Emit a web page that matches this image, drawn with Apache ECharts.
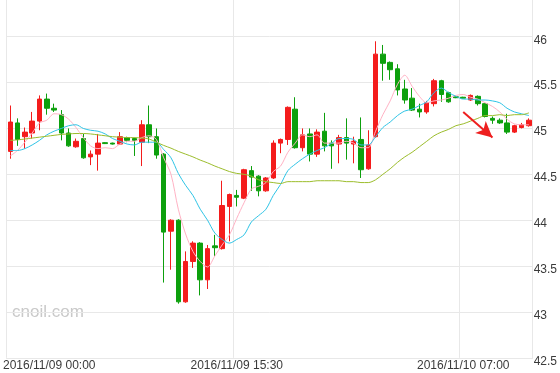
<!DOCTYPE html>
<html><head><meta charset="utf-8">
<script src="https://cdn.jsdelivr.net/npm/echarts@6/dist/echarts.min.js"></script>
<style>html,body{margin:0;padding:0;background:#fff}#c{width:560px;height:373px}</style>
</head><body><div id="c"></div>
<script>
const categories = [
'2016/11/09 00:00','2016/11/09 00:30','2016/11/09 01:00','2016/11/09 01:30','2016/11/09 02:00','2016/11/09 02:30',
'2016/11/09 03:00','2016/11/09 03:30','2016/11/09 04:00','2016/11/09 04:30','2016/11/09 05:00','2016/11/09 05:30',
'2016/11/09 06:00','2016/11/09 06:30','2016/11/09 07:00','2016/11/09 07:30','2016/11/09 08:00','2016/11/09 08:30',
'2016/11/09 09:00','2016/11/09 09:30','2016/11/09 10:00','2016/11/09 10:30','2016/11/09 11:00','2016/11/09 11:30',
'2016/11/09 12:00','2016/11/09 12:30','2016/11/09 13:00','2016/11/09 13:30','2016/11/09 14:00','2016/11/09 14:30',
'2016/11/09 15:00','2016/11/09 15:30','2016/11/09 16:00','2016/11/09 16:30','2016/11/09 17:00','2016/11/09 17:30',
'2016/11/09 18:00','2016/11/09 18:30','2016/11/09 19:00','2016/11/09 19:30','2016/11/09 20:00','2016/11/09 20:30',
'2016/11/09 21:00','2016/11/09 21:30','2016/11/09 22:00','2016/11/09 22:30','2016/11/09 23:00','2016/11/09 23:30',
'2016/11/10 00:00','2016/11/10 00:30','2016/11/10 01:00','2016/11/10 01:30','2016/11/10 02:00','2016/11/10 02:30',
'2016/11/10 03:00','2016/11/10 03:30','2016/11/10 04:00','2016/11/10 04:30','2016/11/10 05:00','2016/11/10 05:30',
'2016/11/10 06:00','2016/11/10 06:30','2016/11/10 07:00','2016/11/10 07:30','2016/11/10 08:00','2016/11/10 08:30',
'2016/11/10 09:00','2016/11/10 09:30','2016/11/10 10:00','2016/11/10 10:30','2016/11/10 11:00','2016/11/10 11:30'
];
const openValues = [44.75,45.06,44.91,44.95,45.08,45.32,45.22,45.15,44.95,44.80,44.89,44.69,44.72,44.845,44.84,44.83,44.90,44.89,44.85,45.04,
44.91,44.72,43.88,44.00,43.11,43.55,43.75,43.35,43.72,43.69,44.15,44.27,44.24,44.54,44.48,44.32,44.46,44.84,44.88,45.21,
44.79,44.94,44.72,44.97,44.84,44.83,44.90,44.83,44.88,44.56,44.91,45.81,45.72,45.65,45.43,45.33,45.21,45.18,45.27,45.52,
45.39,45.345,45.34,45.31,45.35,45.27,45.11,45.09,45.06,44.96,45.01,45.03];
const closeValues = [45.07,44.88,44.96,45.08,45.32,45.22,45.20,44.95,44.81,44.86,44.68,44.72,44.84,44.835,44.83,44.91,44.87,44.87,45.04,44.91,
44.71,43.87,44.00,43.11,43.55,43.75,43.35,43.69,43.70,44.16,44.28,44.25,44.55,44.47,44.32,44.46,44.84,44.88,45.23,44.79,
44.93,44.72,44.96,44.81,44.81,44.90,44.84,44.86,44.55,44.82,45.81,45.71,45.64,45.42,45.31,45.20,45.18,45.28,45.52,45.37,
45.29,45.335,45.33,45.36,45.27,45.13,45.09,45.06,44.96,45.03,45.04,45.09];
const lowValues = [44.67,44.81,44.78,44.89,44.98,45.15,45.18,44.87,44.80,44.79,44.67,44.60,44.54,44.83,44.825,44.82,44.85,44.70,44.59,44.84,
44.67,43.32,43.46,43.09,43.10,43.48,43.18,43.25,43.60,43.68,43.77,44.15,44.23,44.32,44.26,44.31,44.45,44.73,44.82,44.78,
44.75,44.64,44.69,44.75,44.56,44.62,44.66,44.62,44.46,44.55,44.90,45.52,45.53,45.36,45.27,45.19,45.12,45.16,45.24,45.29,
45.28,45.33,45.325,45.30,45.25,45.12,45.05,45.05,44.94,44.95,45.00,45.02];
const highValues = [45.25,45.11,45.01,45.18,45.36,45.38,45.27,45.20,45.00,44.89,44.94,44.76,44.94,44.85,44.845,44.96,44.91,44.90,45.09,45.25,
45.00,44.73,44.01,44.01,43.66,43.77,43.76,43.73,43.84,44.43,44.29,44.33,44.56,44.59,44.49,44.47,44.87,44.89,45.24,45.34,
45.00,45.00,44.99,45.17,44.87,44.93,45.11,44.91,45.12,44.98,45.95,45.91,45.73,45.70,45.53,45.44,45.27,45.30,45.54,45.53,
45.40,45.35,45.345,45.37,45.36,45.27,45.13,45.11,45.16,45.04,45.06,45.11];
const ma5 = [44.70,44.76,44.85,44.95,45.06,45.09,45.16,45.15,45.10,45.01,44.90,44.81,44.78,44.79,44.78,44.83,44.86,44.86,44.90,44.92,
44.88,44.68,44.50,44.12,43.85,43.66,43.55,43.49,43.61,43.73,43.84,44.02,44.19,44.34,44.37,44.41,44.53,44.59,44.74,44.84,
44.93,44.91,44.93,44.84,44.84,44.84,44.86,44.84,44.79,44.79,44.97,45.15,45.30,45.48,45.58,45.46,45.35,45.28,45.30,45.31,
45.33,45.36,45.37,45.34,45.32,45.28,45.24,45.18,45.10,45.05,45.04,45.04];
const ma10 = [44.76,44.76,44.78,44.82,44.87,44.93,44.97,45.00,45.03,45.04,45.00,44.98,44.97,44.94,44.89,44.86,44.83,44.82,44.85,44.85,
44.85,44.77,44.68,44.51,44.38,44.27,44.12,44.00,43.86,43.79,43.75,43.79,43.84,43.98,44.05,44.12,44.27,44.39,44.54,44.61,
44.67,44.72,44.76,44.79,44.84,44.89,44.89,44.88,44.82,44.82,44.91,45.01,45.07,45.14,45.19,45.21,45.25,45.29,45.39,45.44,
45.39,45.35,45.32,45.32,45.31,45.31,45.30,45.28,45.22,45.18,45.16,45.14];
const ma30 = [44.87,44.875,44.885,44.895,44.905,44.915,44.925,44.935,44.94,44.945,44.945,44.94,44.93,44.92,44.91,44.905,44.90,44.90,44.895,44.885,
44.85,44.815,44.785,44.75,44.72,44.69,44.655,44.625,44.59,44.56,44.53,44.51,44.50,44.48,44.44,44.42,44.41,44.40,44.42,44.42,
44.42,44.42,44.43,44.43,44.43,44.43,44.42,44.42,44.41,44.41,44.44,44.50,44.56,44.63,44.69,44.74,44.80,44.86,44.92,44.96,
44.99,45.03,45.05,45.08,45.11,45.14,45.14,45.15,45.14,45.15,45.15,45.17];
const yTicks = {min: 42.5, max: 46.4, step: 0.5};
const arrowFrom = [62, 45.18];
const arrowTo = [66, 44.90];
const watermark = 'cnoil.com';

const FONT = '"Liberation Sans", Arial, sans-serif';
const chart = echarts.init(document.getElementById('c'), null, {renderer: 'canvas'});
const candleData = categories.map((c, i) => [openValues[i], closeValues[i], lowValues[i], highValues[i]]);
const GRID = '#e8e8e8';
chart.setOption({
  animation: false,
  backgroundColor: '#fff',
  grid: {left: 6, right: 26.7, top: 0, bottom: 15.2},
  xAxis: {
    type: 'category', data: categories, boundaryGap: true,
    axisLine: {show: true, lineStyle: {color: GRID}},
    axisTick: {show: false, interval: 30},
    axisLabel: {
      interval: 30, margin: 2, fontSize: 12, color: '#3a3a3a', fontFamily: FONT,
      formatter: (v, i) => i === 0 ? '{first|' + v + '}' : v,
      rich: {first: {padding: [0, 0, 0, 78], fontSize: 12, color: '#3a3a3a', fontFamily: FONT}}
    },
    splitLine: {show: true, interval: 30, lineStyle: {color: GRID, width: 1}}
  },
  yAxis: {
    type: 'value', position: 'right', min: yTicks.min, max: yTicks.max, interval: yTicks.step,
    axisLine: {show: true, lineStyle: {color: GRID}},
    axisTick: {show: false},
    axisLabel: {
      margin: 1, fontSize: 12, color: '#3a3a3a', fontFamily: FONT, showMaxLabel: false,
      formatter: v => '{v|' + v + '}',
      rich: {v: {padding: [7, 0, 0, 0], fontSize: 12, color: '#3a3a3a', fontFamily: FONT}}
    },
    splitLine: {show: true, showMaxLine: false, lineStyle: {color: GRID, width: 1}}
  },
  graphic: [{
    type: 'text', left: 12, top: 304, silent: true,
    style: {text: watermark, fill: '#c9c9c9', font: '17px ' + FONT}
  }],
  series: [
    {
      type: 'candlestick', data: candleData, barWidth: 5,
      itemStyle: {color: '#f41c1c', color0: '#0da00d', borderColor: '#f41c1c', borderColor0: '#0da00d', borderWidth: 1},
      markLine: {
        silent: true, symbol: ['none', 'arrow'], symbolSize: [12, 16],
        label: {show: false},
        lineStyle: {color: '#ee1f1f', width: 2, type: 'solid'},
        data: [[{coord: arrowFrom}, {coord: arrowTo}]]
      }
    },
    {type: 'line', data: ma5, symbol: 'none', smooth: 0.3, lineStyle: {color: '#ffb2c4', width: 1}, z: 3},
    {type: 'line', data: ma10, symbol: 'none', smooth: 0.3, lineStyle: {color: '#2ec4e6', width: 1}, z: 3},
    {type: 'line', data: ma30, symbol: 'none', smooth: 0.3, lineStyle: {color: '#9cbd2c', width: 1}, z: 3}
  ]
});
</script>
</body></html>
